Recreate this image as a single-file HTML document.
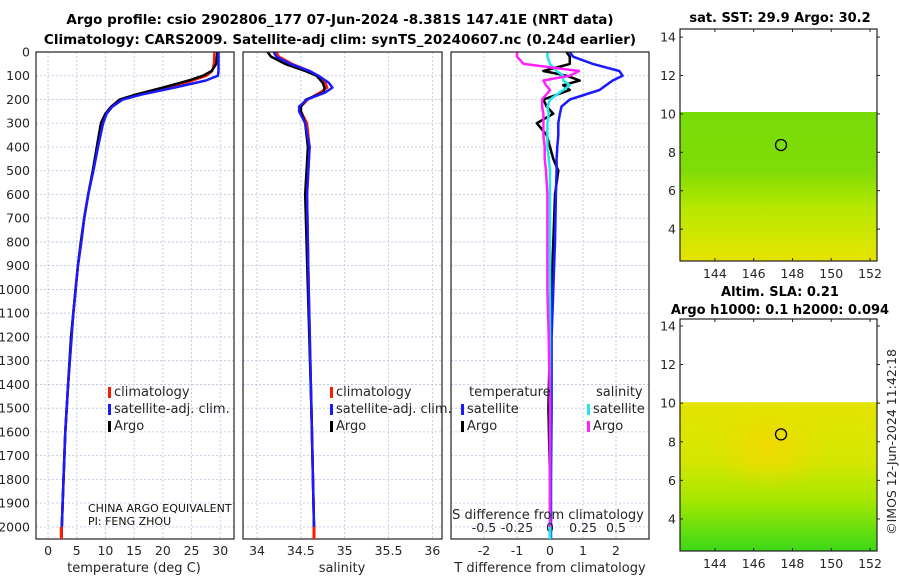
<!DOCTYPE html>
<html><head><meta charset="utf-8"><style>
body{margin:0;background:#fff}
svg{display:block;font-family:"DejaVu Sans","Liberation Sans",sans-serif}
</style></head><body>
<svg id="c" width="900" height="580" viewBox="0 0 900 580">
<defs>
<linearGradient id="g1" x1="0" y1="0" x2="0" y2="1"><stop offset="0" stop-color="#78dc08"/><stop offset="0.4" stop-color="#80dc06"/><stop offset="0.65" stop-color="#b8e800"/><stop offset="1" stop-color="#e6e400"/></linearGradient>
<linearGradient id="g2" x1="0" y1="0" x2="0" y2="1"><stop offset="0" stop-color="#e4e400"/><stop offset="0.4" stop-color="#d4e600"/><stop offset="0.65" stop-color="#a8e800"/><stop offset="1" stop-color="#3cd818"/></linearGradient>
<radialGradient id="g3" cx="0.45" cy="0.3" r="0.3"><stop offset="0" stop-color="#f2d800" stop-opacity="0.9"/><stop offset="1" stop-color="#f2d800" stop-opacity="0"/></radialGradient>
</defs>
<text x="340" y="24" text-anchor="middle" font-weight="bold" font-size="13.5">Argo profile: csio 2902806_177 07-Jun-2024 -8.381S 147.41E (NRT data)</text>
<text x="340" y="44" text-anchor="middle" font-weight="bold" font-size="13.5">Climatology: CARS2009. Satellite-adj clim: synTS_20240607.nc (0.24d earlier)</text>
<g id="plots"></g>
</svg>
<script>
// ---- data ----
const depthTicks=[0,100,200,300,400,500,600,700,800,900,1000,1100,1200,1300,1400,1500,1600,1700,1800,1900,2000];
const tempTicks=[0,5,10,15,20,25,30];
const salTicks=[34,34.5,35,35.5,36];
const salTickLabels=["34","34.5","35","35.5","36"];
const diffTicks=[-2,-1,0,1,2];
const sdiffTicks=[-0.5,-0.25,0,0.25,0.5];
const sdiffLabels=["-0.5","-0.25","0","0.25","0.5"];
const dT=[0,50,80,100,120,150,180,200,230,260,300,400,500,600,700,800,900,1000,1100,1200,1400,1600,1800,2000,2050];
const tClim=[29.0,28.9,28.6,27.6,25.2,21,16,13,11.2,10.2,9.5,8.6,7.8,7.0,6.3,5.8,5.2,4.8,4.4,4.1,3.5,3.0,2.7,2.4,2.3];
const tSat =[29.7,29.7,29.7,29.6,27.5,22,16.2,13,11.2,10.2,9.6,8.7,7.9,7.0,6.3,5.8,5.2,4.8,4.4,4.1,3.5,3.0,2.7,2.4,2.3];
const tArgo=[29.5,29.3,28.5,27.0,24.5,20,15.2,12.5,11.0,10.0,9.2,8.5,7.8,7.0,6.3,5.7,5.2,4.8,4.4,4.0,3.5,3.0,2.7,2.4,2.3];
const dS=[0,20,50,80,100,130,150,170,200,230,250,300,400,600,1000,1500,2000,2050];
const sClim=[34.22,34.25,34.4,34.6,34.68,34.78,34.8,34.72,34.58,34.5,34.5,34.57,34.6,34.57,34.59,34.62,34.65,34.65];
const sSat =[34.19,34.22,34.38,34.6,34.7,34.82,34.86,34.78,34.57,34.48,34.48,34.55,34.6,34.57,34.59,34.62,34.65,34.65];
const sArgo=[34.12,34.16,34.32,34.55,34.68,34.75,34.77,34.76,34.56,34.5,34.5,34.55,34.58,34.55,34.58,34.62,34.65,34.65];
const dD=[0,20,50,80,100,120,140,160,200,230,260,300,350,400,450,500,600,800,1000,1200,1500,1800,2000,2050];
const tdSat=[0.6,0.7,1.3,2.1,2.2,1.9,1.7,1.5,0.6,0.35,0.3,0.25,0.25,0.22,0.2,0.2,0.18,0.15,0.1,0.05,0.05,0.03,0.03,0.03];
const tdArgo=[0.5,0.6,0.6,-0.2,0.5,0.9,0.4,0.6,-0.2,-0.1,0.1,-0.4,-0.1,0.0,0.1,0.25,0.15,0.1,0.05,0.0,-0.05,0.0,0.0,0.0];
const sdSat=[-0.02,-0.02,0.0,0.05,0.1,0.1,0.15,0.1,0.0,-0.02,-0.01,-0.02,-0.02,-0.02,-0.01,0.0,0.0,0.0,0.0,0.0,0.0,0.0,0.0,0.0];
const sdArgo=[-0.25,-0.25,-0.2,0.22,0.15,-0.05,-0.03,0.0,-0.06,-0.06,-0.05,-0.05,-0.05,-0.04,-0.04,-0.03,-0.02,-0.02,-0.02,-0.01,0.0,0.0,0.0,0.0];
const lonTicks=[144,146,148,150,152];
const latTicks=[4,6,8,10,12,14];
const argoLon=147.41, argoLat=-8.381;
// ---- drawing ----
const NS="http://www.w3.org/2000/svg";
const root=document.getElementById('plots');
function mk(tag,at,parent){const e=document.createElementNS(NS,tag);for(const k in at)e.setAttribute(k,at[k]);(parent||root).appendChild(e);return e;}
const pTop=52, bot=539, dmax=2051;
const yD=d=>pTop+d/dmax*(bot-pTop);
const panels=[{x0:36,x1:234,lo:-2.1,hi:32.4},{x0:243,x1:442,lo:33.84,hi:36.11},{x0:451,x1:649,lo:-3,hi:3}];
panels.forEach(p=>{p.sx=v=>p.x0+(v-p.lo)/(p.hi-p.lo)*(p.x1-p.x0);});
function grid(p,ticks){
  ticks.forEach(t=>{const l=mk('line',{x1:p.sx(t),x2:p.sx(t),y1:pTop,y2:bot,stroke:'#b8c4e0','stroke-width':0.8,'stroke-dasharray':'2,2'});
  
  });
  depthTicks.forEach(d=>{const l=mk('line',{x1:p.x0,x2:p.x1,y1:yD(d),y2:yD(d),stroke:'#b8c4e0','stroke-width':0.8,'stroke-dasharray':'2,2'});
  
  });
}
function frame(p,name){const r=mk('rect',{x:p.x0,y:pTop,width:p.x1-p.x0,height:bot-pTop,fill:'none',stroke:'#222','stroke-width':1.2});

}
function line(p,xs,ds,color,w,name){
  const pts=xs.map((v,i)=>p.sx(v).toFixed(1)+','+yD(ds[i]).toFixed(1)).join(' ');
  const e=mk('polyline',{points:pts,fill:'none',stroke:color,'stroke-width':w,'stroke-linejoin':'round'});
  
  
}
function txt(x,y,s,at){const e=mk('text',Object.assign({x:x,y:y,'font-size':12.5,fill:'#262626'},at||{}));e.textContent=s;return e;}
function xTicks(p,ticks,labels,y,name){
  ticks.forEach((t,i)=>{const e=txt(p.sx(t),y,labels?labels[i]:String(t),{'text-anchor':'middle'});
  
  });
}
grid(panels[0],tempTicks);grid(panels[1],salTicks);grid(panels[2],diffTicks);
depthTicks.forEach(d=>{const e=txt(30,yD(d)+4.5,String(d),{'text-anchor':'end'});

});
const P1=panels[0],P2=panels[1],P3=panels[2];
line(P1,tClim,dT,'#ff1a00',2.5,'temp-climatology-line');
line(P1,tArgo,dT,'#000',2.5,'temp-argo-line');
line(P1,tSat,dT,'#1a1aff',2.5,'temp-satellite-line');
frame(P1,'temperature-panel');
xTicks(P1,tempTicks,null,555,'temp-tick-label');
line(P2,sClim,dS,'#ff1a00',2.5,'sal-climatology-line');
line(P2,sArgo,dS,'#000',2.5,'sal-argo-line');
line(P2,sSat,dS,'#1a1aff',2.5,'sal-satellite-line');
frame(P2,'salinity-panel');
xTicks(P2,salTicks,salTickLabels,555,'sal-tick-label');
line(P3,tdArgo,dD,'#000',2.5,'tdiff-argo-line');
line(P3,tdSat,dD,'#1a1aff',2.5,'tdiff-satellite-line');
line(P3,sdSat.map(v=>v*4),dD,'#22e5ee',2.5,'sdiff-satellite-line');
line(P3,sdArgo.map(v=>v*4),dD,'#ff22ff',2.5,'sdiff-argo-line');
frame(P3,'difference-panel');
xTicks(P3,diffTicks,null,555,'tdiff-tick-label');
xTicks(P3,sdiffTicks.map(v=>v*4),sdiffLabels,532,'sdiff-tick-label');
[[P1,2.3],[P2,34.65]].forEach(([p,v])=>{const r=mk('rect',{x:p.sx(v)-1.5,y:yD(2000),width:3,height:bot-yD(2000),fill:'#ff1a00'});

});
{const r=mk('rect',{x:P3.sx(0)-1.5,y:yD(2000),width:3,height:bot-yD(2000),fill:'#22e5ee'});

}
[[134,'temperature (deg C)'],[342,'salinity'],[550,'T difference from climatology']].forEach(([x,s])=>{const e=txt(x,572,s,{'text-anchor':'middle','font-size':13});

});
{const e=txt(548,519,'S difference from climatology',{'text-anchor':'middle','font-size':13});

}
function legItem(x,y,color,label,name){
  const r=mk('rect',{x:x,y:y-9,width:3,height:11,fill:color});
  
  
  const t=txt(x+6,y,label,{'font-size':13});
  
  
}
[[108,'#ff1a00','climatology'],[108,'#1a1aff','satellite-adj. clim.'],[108,'#000','Argo']].forEach((a,i)=>legItem(a[0],396+i*17,a[1],a[2],'legend-temp-'+i));
[[330,'#ff1a00','climatology'],[330,'#1a1aff','satellite-adj. clim.'],[330,'#000','Argo']].forEach((a,i)=>legItem(a[0],396+i*17,a[1],a[2],'legend-sal-'+i));
{const t=txt(469,396,'temperature',{'font-size':13});
const t2=txt(596,396,'salinity',{'font-size':13});}
legItem(461,413,'#1a1aff','satellite','legend-tdiff-sat');
legItem(461,430,'#000','Argo','legend-tdiff-argo');
legItem(587,413,'#22e5ee','satellite','legend-sdiff-sat');
legItem(587,430,'#ff22ff','Argo','legend-sdiff-argo');
{const t=txt(88,512,'CHINA ARGO EQUIVALENT',{'font-size':11,fill:'#111'});
const t2=txt(88,525,'PI: FENG ZHOU',{'font-size':11,fill:'#111'});}
function map(y0,y1,latTop,latBot,dataTop,grad,name,overlay){
  const x0=680,x1=877,lonL=142.2,lonR=152.36;
  const sx=v=>x0+(v-lonL)/(lonR-lonL)*(x1-x0);
  const sy=v=>y0+(latTop-v)/(latTop-latBot)*(y1-y0);
  const r=mk('rect',{x:x0,y:sy(dataTop),width:x1-x0,height:y1-sy(dataTop),fill:'url(#'+grad+')'});
  
  
  if(overlay){const o=mk('rect',{x:x0,y:sy(dataTop),width:x1-x0,height:y1-sy(dataTop),fill:'url(#'+overlay+')'});
  
  }
  const f=mk('rect',{x:x0,y:y0,width:x1-x0,height:y1-y0,fill:'none',stroke:'#222','stroke-width':1.2});
  
  
  lonTicks.forEach(v=>{const t=txt(sx(v),y1+17,String(v),{'text-anchor':'middle'});
  
  
  mk('line',{x1:sx(v),x2:sx(v),y1:y1,y2:y1-3,stroke:'#222'});
  mk('line',{x1:sx(v),x2:sx(v),y1:y0,y2:y0+3,stroke:'#222'});});
  latTicks.forEach(v=>{const t=txt(x0-4,sy(v)+4.5,String(v),{'text-anchor':'end'});
  
  
  mk('line',{x1:x1,x2:x1+3,y1:sy(v),y2:sy(v),stroke:'#222'});
  mk('line',{x1:x0,x2:x0+3,y1:sy(v),y2:sy(v),stroke:'#222'});});
  const c=mk('circle',{cx:sx(argoLon),cy:sy(-argoLat),r:5.5,fill:'none',stroke:'#000','stroke-width':1.3});
  
  
}
map(29,261,14.42,2.34,10.1,'g1','sst-map',null);
map(319,551,14.36,2.34,10.05,'g2','sla-map','g3');
[[780,22,'sat. SST: 29.9 Argo: 30.2','sst-map-title'],[780,296,'Altim. SLA: 0.21','sla-map-title'],[780,314,'Argo h1000: 0.1 h2000: 0.094','sla-map-subtitle']].forEach(a=>{
  const t=txt(a[0],a[1],a[2],{'text-anchor':'middle','font-weight':'bold','font-size':13,fill:'#000'});
  
  });
{const t=txt(0,0,'©IMOS 12-Jun-2024 11:42:18',{'text-anchor':'middle','font-size':12.5,transform:'translate(896,442) rotate(-90)'});

}
</script>
</body></html>
